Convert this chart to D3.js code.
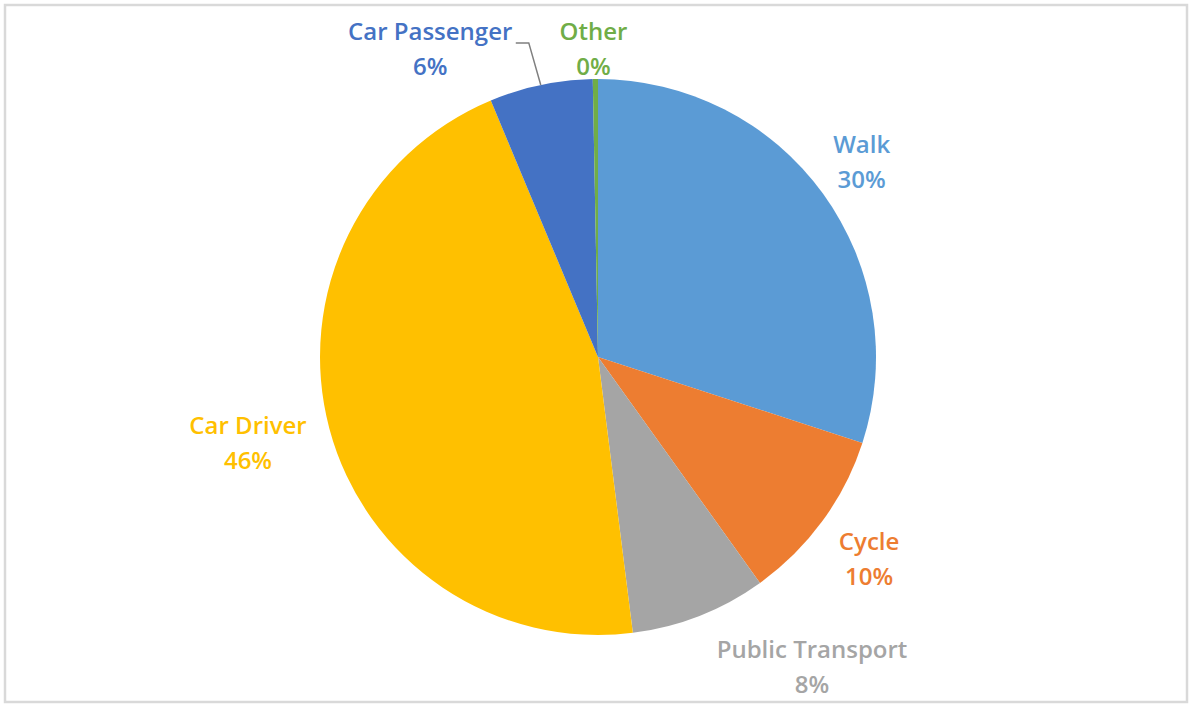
<!DOCTYPE html>
<html>
<head>
<meta charset="utf-8">
<script src="https://cdn.jsdelivr.net/npm/d3@7"></script>
<style>
  body { margin: 0; background: #fff; }
  svg text { font-family: "Open Sans", sans-serif; font-weight: 600; }
</style>
</head>
<body>
<svg id="chart" width="1192" height="704"></svg>
<script>
// travel mode share
var categories = ["Walk", "Cycle", "Public Transport", "Car Driver", "Car Passenger", "Other"];
var values = [30.0, 10.1, 7.9, 45.7, 6.0, 0.3];
var colors = ["#5B9BD5", "#ED7D31", "#A5A5A5", "#FFC000", "#4472C4", "#70AD47"];

var width = 1192, height = 704;
var cx = 598, cy = 357, radius = 278;
var lineGap = 35;
var fontSize = 24;

// where each data label sits: radius factor and angle shift (degrees) from slice middle
var labelLayout = {
	"Walk": {k: 1.18, shift: -0.5},
	"Cycle": {k: 1.216, shift: 0.5},
	"Public Transport": {k: 1.355, shift: -13.2},
	"Car Driver": {k: 1.296, shift: 1.2},
	"Car Passenger": {k: 1.262, shift: -16.7, leader: true},
	"Other": {k: 1.108, shift: -0.3}
};

var svg = d3.select("#chart");

// chart area border
svg.append("rect")
	.attr("x", 5).attr("y", 5)
	.attr("width", width - 10).attr("height", height - 7)
	.attr("fill", "#fff")
	.attr("stroke", "#d9d9d9")
	.attr("stroke-width", 2.5);

var data = categories.map(function(c, i){ return {name: c, value: values[i], color: colors[i]}; });

var pie = d3.pie().sort(null).value(function(d){ return d.value; });
var arc = d3.arc().innerRadius(0).outerRadius(radius);
var arcs = pie(data);

var g = svg.append("g").attr("transform", "translate(" + cx + "," + cy + ")");

g.selectAll("path.slice")
	.data(arcs)
	.enter().append("path")
	.attr("class", "slice")
	.attr("d", arc)
	.attr("fill", function(d){ return d.data.color; });

function polar(angle, r) {
	return [r * Math.sin(angle), -r * Math.cos(angle)];
}

var labels = g.selectAll("g.label")
	.data(arcs)
	.enter().append("g")
	.attr("class", "label")
	.attr("transform", function(d){
		var L = labelLayout[d.data.name];
		var mid = (d.startAngle + d.endAngle) / 2 + L.shift * Math.PI / 180;
		var p = polar(mid, radius * L.k);
		return "translate(" + p[0] + "," + p[1] + ")";
	});

labels.append("text")
	.attr("text-anchor", "middle")
	.attr("y", -9)
	.attr("font-size", fontSize)
	.attr("fill", function(d){ return d.data.color; })
	.text(function(d){ return d.data.name; });

labels.append("text")
	.attr("text-anchor", "middle")
	.attr("y", -9 + lineGap)
	.attr("font-size", fontSize)
	.attr("fill", function(d){ return d.data.color; })
	.text(function(d){ return Math.round(d.data.value) + "%"; });

// leader line for the label pushed away from its slice
arcs.forEach(function(d){
	var L = labelLayout[d.data.name];
	if (!L.leader) return;
	var mid = (d.startAngle + d.endAngle) / 2;
	var start = polar(mid, radius);
	var lab = polar(mid + L.shift * Math.PI / 180, radius * L.k);
	var elbow = [start[0] - 12, lab[1] - 6];
	var end = [elbow[0] - 13, elbow[1]];
	g.append("polyline")
		.attr("points", [start, elbow, end].map(function(p){ return p.join(","); }).join(" "))
		.attr("fill", "none")
		.attr("stroke", "#7f7f7f")
		.attr("stroke-width", 1.5);
});
</script>
</body>
</html>
